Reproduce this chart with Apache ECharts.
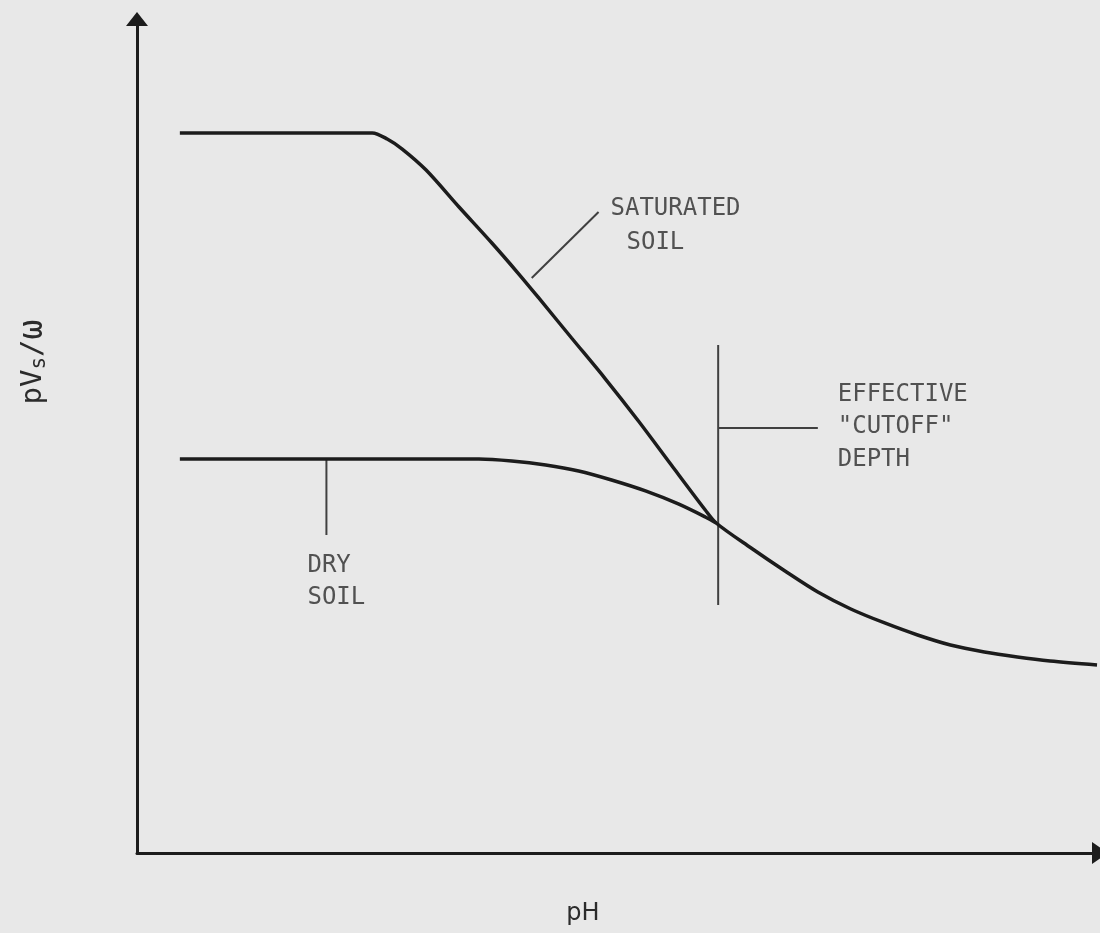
<!DOCTYPE html>
<html>
<head>
<meta charset="utf-8">
<script src="https://cdn.jsdelivr.net/npm/echarts@6/dist/echarts.min.js"></script>
<style>
  html, body { margin: 0; padding: 0; background: #e8e8e8; }
  #chart { width: 1100px; height: 933px; }
</style>
</head>
<body>
<div id="chart"></div>
<script>
// ---- data (abstract units, 0..100 on both axes) ----
const satX  = [4.45, 24.43, 25.98, 27.54, 30.02, 33.44, 36.85, 39.65, 41.72, 45.13, 48.65, 52.07, 55.49, 59.01, 60.14];
const satY  = [86.33, 86.33, 85.61, 84.41, 81.89, 77.46, 73.14, 69.42, 66.55, 61.75, 56.83, 51.80, 46.52, 41.13, 39.57];
const tailX = [63.77, 67.29, 70.70, 74.12, 77.64, 81.06, 84.47, 87.99, 91.41, 94.82, 99.69];
const tailY = [36.57, 33.81, 31.29, 29.26, 27.58, 26.14, 24.94, 24.10, 23.50, 23.02, 22.54];
const dryX  = [4.45, 35.51, 38.92, 42.44, 45.86, 49.28, 52.80, 56.21, 59.01, 60.14];
const dryY  = [47.24, 47.24, 47.00, 46.52, 45.80, 44.72, 43.41, 41.85, 40.29, 39.57];

// leader lines
const satLeaderX = [40.99, 47.93], satLeaderY = [68.94, 76.86];
const cutVX = [60.35, 60.35],      cutVY = [60.91, 29.74];
const cutHX = [60.35, 70.70],      cutHY = [50.96, 50.96];
const dryLeaderX = [19.67, 19.67], dryLeaderY = [47.24, 38.13];

// annotation texts and anchors
const labelText = ['SATURATED', 'SOIL', 'EFFECTIVE', '"CUTOFF"', 'DEPTH', 'DRY', 'SOIL'];
const labelX = [49.17, 50.83, 72.77, 72.77, 72.77, 17.70, 17.70];
const labelY = [77.22, 73.14, 54.92, 51.08, 47.12, 34.41, 30.58];

const xAxisTitle = 'pH';

const zip = (xs, ys) => xs.map((x, i) => [x, ys[i]]);

const chart = echarts.init(document.getElementById('chart'), null, { renderer: 'canvas' });

const ink = '#1c1c1c';
const textInk = '#2b2b2b';
const leaderStyle = { color: '#404040', width: 2 };
const letterFont = "'DejaVu Sans Mono', monospace";

function leader(xs, ys) {
  return {
    type: 'line', data: zip(xs, ys), showSymbol: false, silent: true,
    lineStyle: leaderStyle, z: 2
  };
}

const option = {
  backgroundColor: '#e8e8e8',
  animation: false,
  grid: { left: 137, right: -3, top: 19, bottom: 80 },
  xAxis: {
    type: 'value', min: 0, max: 100,
    axisLine: { show: true, onZero: false, symbol: ['none', 'triangle'], symbolSize: [22, 16],
      lineStyle: { color: ink, width: 3 } },
    axisTick: { show: false }, axisLabel: { show: false }, splitLine: { show: false }
  },
  yAxis: {
    type: 'value', min: 0, max: 100,
    axisLine: { show: true, onZero: false, symbol: ['none', 'triangle'], symbolSize: [22, 14],
      lineStyle: { color: ink, width: 3 } },
    axisTick: { show: false }, axisLabel: { show: false }, splitLine: { show: false }
  },
  graphic: [
    {
      type: 'text', x: 33, y: 362, rotation: Math.PI / 2,
      style: {
        text: '{a|pV}{b|s}{a|/}{c|ω}',
        align: 'center', verticalAlign: 'middle',
        rich: {
          a: { fontFamily: letterFont, fontSize: 29, fill: textInk, lineHeight: 34, verticalAlign: 'middle' },
          b: { fontFamily: letterFont, fontSize: 21, fill: textInk, lineHeight: 34, verticalAlign: 'bottom' },
          c: { fontFamily: letterFont, fontSize: 33, fill: textInk, lineHeight: 34, verticalAlign: 'middle' }
        }
      }
    },
    {
      type: 'text', x: 583, y: 914,
      style: { text: xAxisTitle, fontFamily: "'DejaVu Sans', sans-serif", fontSize: 24, fill: textInk,
        align: 'center', verticalAlign: 'middle' }
    }
  ],
  series: [
    {
      type: 'line', name: 'Saturated soil', data: zip(satX.concat(tailX), satY.concat(tailY)),
      showSymbol: false, silent: true, smooth: 0.3,
      lineStyle: { color: ink, width: 3.5 }, z: 3
    },
    {
      type: 'line', name: 'Dry soil', data: zip(dryX, dryY),
      showSymbol: false, silent: true, smooth: 0.3,
      lineStyle: { color: ink, width: 3.5 }, z: 3
    },
    leader(satLeaderX, satLeaderY),
    leader(cutVX, cutVY),
    leader(cutHX, cutHY),
    leader(dryLeaderX, dryLeaderY),
    {
      type: 'scatter', silent: true, symbolSize: 0,
      data: labelText.map((t, i) => ({ value: [labelX[i], labelY[i]], name: t })),
      label: {
        show: true, position: 'right', distance: 0,
        formatter: p => p.name,
        fontFamily: letterFont, fontSize: 24, color: textInk
      },
      z: 4
    }
  ]
};

chart.setOption(option);
</script>
</body>
</html>
